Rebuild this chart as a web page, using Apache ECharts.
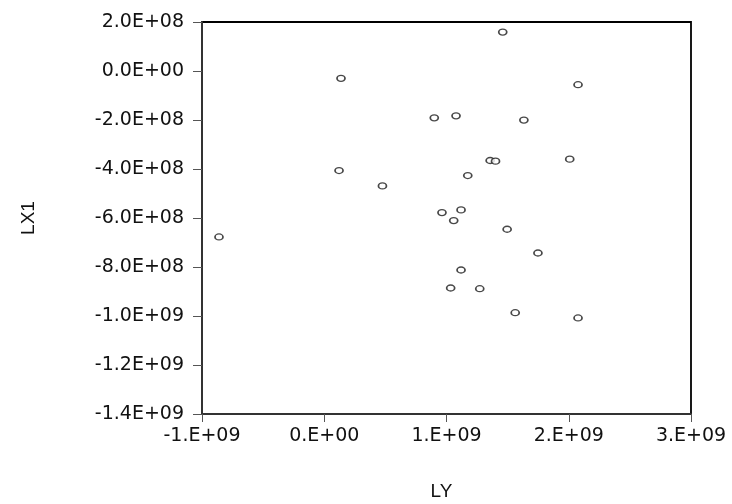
<!DOCTYPE html>
<html>
<head>
<meta charset="utf-8">
<script src="https://cdn.jsdelivr.net/npm/echarts@6/dist/echarts.min.js"></script>
<style>
    html, body { margin: 0; padding: 0; background: #fff; }
    #chart { width: 732px; height: 504px; }
</style>
</head>
<body>
<div id="chart"></div>
<script>
    // LY on x, LX1 on y
    var lyValues = [1.46e9, 0.137e9, 2.076e9, 0.90e9, 1.078e9, 1.633e9, 1.357e9, 1.401e9,
        2.008e9, 0.121e9, 1.174e9, 0.476e9, 0.963e9, 1.119e9, 1.059e9, 1.496e9,
        -0.861e9, 1.748e9, 1.119e9, 1.034e9, 1.272e9, 1.562e9, 2.076e9];
    var lx1Values = [1.59e8, -0.30e8, -0.56e8, -1.91e8, -1.83e8, -2.005e8, -3.654e8, -3.68e8,
        -3.60e8, -4.063e8, -4.267e8, -4.689e8, -5.779e8, -5.67e8, -6.106e8, -6.46e8,
        -6.774e8, -7.428e8, -8.123e8, -8.858e8, -8.886e8, -9.866e8, -10.08e8];

    var xTickLabels = ["-1.E+09", "0.E+00", "1.E+09", "2.E+09", "3.E+09"];
    var yTickLabels = ["-1.4E+09", "-1.2E+09", "-1.0E+09", "-8.0E+08", "-6.0E+08",
        "-4.0E+08", "-2.0E+08", "0.0E+00", "2.0E+08"];

    var points = lyValues.map(function (v, i) { return [v, lx1Values[i]]; });

    var labelStyle = { color: "#111", fontFamily: "DejaVu Sans", fontSize: 19 };
    var nameStyle = { color: "#111", fontFamily: "Liberation Sans", fontSize: 19 };

    var chart = echarts.init(document.getElementById("chart"));
    chart.setOption({
        animation: false,
        grid: {
            left: 202, right: 41, top: 22, bottom: 90,
            outerBoundsMode: "none",
            show: true, borderColor: "#000", borderWidth: 1.8
        },
        xAxis: {
            type: "value",
            min: -1e9, max: 3e9, interval: 1e9,
            name: "LY",
            nameLocation: "middle",
            nameGap: 68,
            nameTextStyle: Object.assign({ padding: [0, 10, 0, 0] }, nameStyle),
            axisLine: { onZero: false, lineStyle: { color: "#333", width: 1.8 } },
            axisTick: { show: true, inside: false, length: 8, lineStyle: { color: "#555" } },
            axisLabel: Object.assign({
                margin: 13,
                formatter: function (v) { return xTickLabels[Math.round(v / 1e9) + 1]; }
            }, labelStyle),
            splitLine: { show: false }
        },
        yAxis: {
            type: "value",
            min: -1.4e9, max: 2e8, interval: 2e8,
            name: "LX1",
            nameLocation: "middle",
            nameGap: 164,
            nameRotate: 90,
            nameTextStyle: nameStyle,
            axisLine: { onZero: false, lineStyle: { color: "#333", width: 2 } },
            axisTick: { show: true, inside: false, length: 9, lineStyle: { color: "#555" } },
            axisLabel: Object.assign({
                margin: 18,
                formatter: function (v) { return yTickLabels[Math.round(v / 2e8) + 7]; }
            }, labelStyle),
            splitLine: { show: false }
        },
        series: [{
            type: "scatter",
            data: points,
            symbol: "circle",
            symbolSize: [8, 6],
            itemStyle: { color: "#fff", borderColor: "#1a1a1a", borderWidth: 1.5 }
        }]
    });
</script>
</body>
</html>
